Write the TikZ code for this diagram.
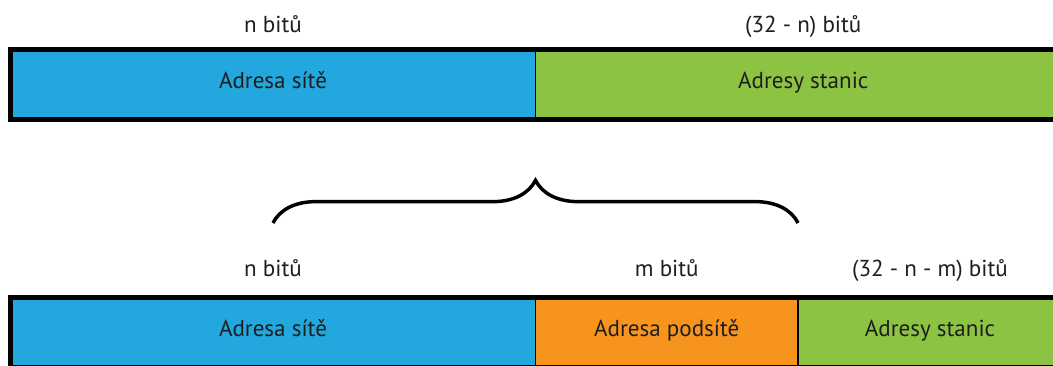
\documentclass[tikz,border=0pt]{standalone}
\usepackage{fontspec}
\setmainfont{PT Sans}
\usetikzlibrary{decorations.pathreplacing}

\definecolor{netblue}{RGB}{34,167,222}
\definecolor{hostgreen}{RGB}{140,195,66}
\definecolor{subnetorange}{RGB}{247,148,30}
\definecolor{ink}{RGB}{30,30,30}

\begin{document}
\begin{tikzpicture}[
    x=0.75pt, y=-0.75pt,
    field/.style={rectangle, draw=black, line width=1.2pt, outer sep=0pt,
      inner sep=0pt, minimum height=52.5pt, text=ink,
      text height=11.25pt, text depth=5.25pt,
      font=\fontsize{17.3}{19}\selectfont},
    bits/.style={anchor=base, inner sep=0pt, text=ink,
      font=\fontsize{17.3}{19}\selectfont},
    frame/.style={draw=black, line width=3.75pt},
    curly/.style={draw=black, line width=2.6pt, decorate,
      decoration={brace, amplitude=32pt}}
  ]
  \useasboundingbox (0,0) rectangle (1053,365);

  % draw address without subnets
  \node[field, fill=netblue, minimum width=393.75pt] at (273,84.5) (net) {Adresa sítě};
  \node[field, fill=hostgreen, minimum width=401.6pt] at (803.25,84.5) (hosts) {Adresy stanic};
  \draw[frame] (net.north west) rectangle (hosts.south east);

  % draw address with subnet part
  \node[field, fill=netblue, minimum width=393.75pt] at (273,332.5) (net2) {Adresa sítě};
  \node[field, fill=subnetorange, minimum width=196.9pt] at (666.75,332.5) (subnet) {Adresa podsítě};
  \node[field, fill=hostgreen, minimum width=198pt] at (930,332.5) (hosts2) {Adresy stanic};
  \draw[frame] (net2.north west) rectangle (hosts2.south east);

  % draw bit counts
  \node[bits] at ([yshift=13.1pt]net.north) (netbits) {n bitů};
  \node[bits] at ([yshift=13.1pt]hosts.north) (hostbits) {(32 - n) bitů};
  \node[bits] at ([yshift=15.4pt]net2.north) (netbits2) {n bitů};
  \node[bits] at ([yshift=15.4pt]subnet.north) (subnetbits) {m bitů};
  \node[bits] at ([yshift=15.4pt]hosts2.north) (hostbits2) {(32 - n - m) bitů};

  % draw brace
  \draw[curly] ([yshift=55.9pt]net2.north) -- ([yshift=55.9pt]subnet.north east);
\end{tikzpicture}
\end{document}
